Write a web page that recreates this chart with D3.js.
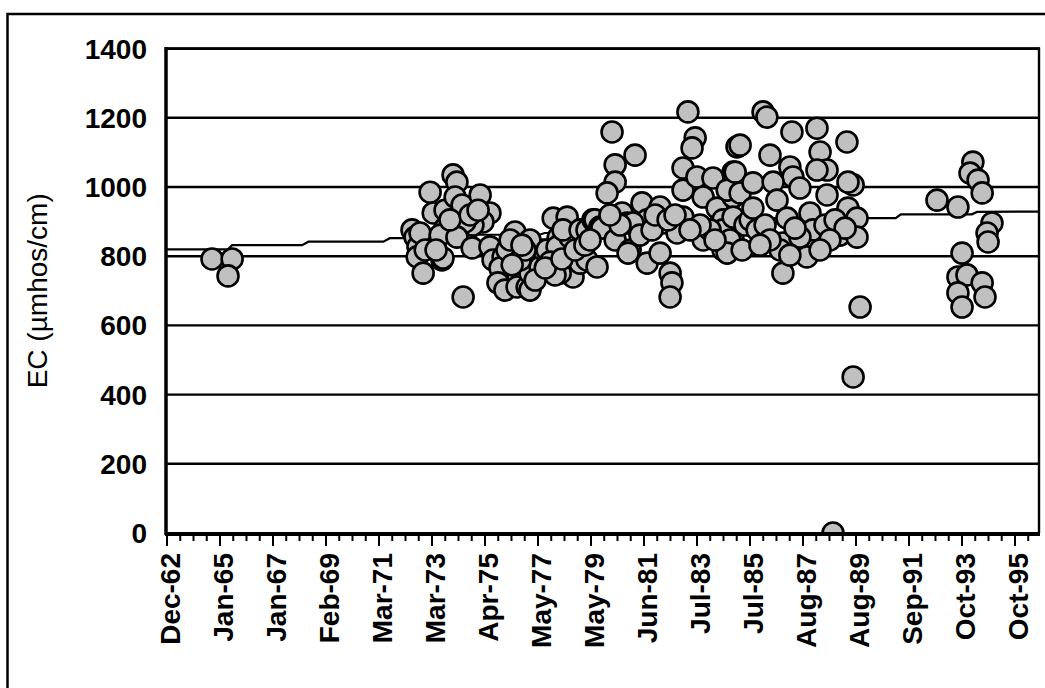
<!DOCTYPE html>
<html>
<head>
<meta charset="utf-8">
<script src="https://cdn.jsdelivr.net/npm/d3@7"></script>
<style>
  html, body { margin: 0; padding: 0; background: #fff; }
  svg { display: block; }
  text { font-family: Arial, "Liberation Sans", sans-serif; fill: #000; }
</style>
</head>
<body>
<svg id="chart" width="1045" height="688"></svg>
<script>
// Sample dates (decimal years) and electrical conductivity readings (µmhos/cm)
const sampleYears = [
  1964.71, 1965.49, 1965.33,
  1972.46, 1972.58, 1972.69, 1972.66, 1972.89, 1972.77, 1973.16, 1973.28, 1973.74, 1974.05,
  1974.20, 1974.13, 1974.40, 1975.10, 1975.48, 1975.21, 1974.82, 1974.51, 1973.74, 1973.55,
  1973.62, 1974.20, 1974.79, 1974.44, 1975.48, 1975.60, 1973.66, 1973.93, 1974.71, 1975.02,
  1972.97, 1973.39,
  1975.99, 1975.87, 1975.79, 1976.06, 1976.45, 1976.14, 1976.57, 1976.53, 1976.92, 1977.03,
  1977.03, 1977.31, 1977.42, 1977.54, 1977.03, 1977.93, 1978.12, 1978.20, 1977.69, 1978.08,
  1978.47, 1978.58, 1978.70, 1978.47, 1978.31, 1978.20, 1978.97, 1978.97, 1979.24, 1979.24,
  1979.63, 1979.47, 1979.55, 1979.74, 1979.82, 1976.65, 1976.84, 1977.23, 1977.81, 1978.00,
  1977.62, 1976.34, 1978.27, 1978.78, 1979.16, 1979.36, 1976.26, 1976.72,
  1980.21, 1980.33, 1980.33, 1980.02, 1981.10, 1980.60, 1980.33, 1980.91, 1980.79, 1980.83,
  1981.37, 1981.57, 1981.02, 1981.57, 1982.07, 1982.19, 1982.07, 1982.46, 1982.53, 1982.46,
  1982.96, 1982.73, 1981.29, 1981.76, 1980.52, 1981.88, 1982.38, 1982.65, 1980.13,
  1983.15, 1983.43, 1983.31, 1982.96, 1982.96, 1983.50, 1983.74, 1984.12, 1984.28, 1984.51,
  1983.74, 1984.51, 1985.05, 1984.90, 1984.90, 1984.90, 1984.51, 1984.67, 1985.17, 1984.98,
  1985.17, 1984.90, 1984.78, 1984.67, 1984.01, 1983.62, 1984.20, 1983.23, 1985.36, 1985.56,
  1985.25,
  1986.06, 1986.21, 1987.18, 1988.15, 1989.31, 1986.33, 1988.27, 1987.10, 1988.54, 1988.15,
  1987.22, 1989.55, 1989.35, 1985.67, 1986.45, 1987.49, 1988.54, 1986.60, 1985.67, 1986.99,
  1987.88, 1989.35, 1989.70, 1985.83, 1987.99, 1989.04, 1989.70, 1986.83, 1987.49, 1987.76,
  1986.72, 1986.83, 1989.82, 1989.55, 1988.77, 1986.14, 1986.33, 1987.30, 1988.46, 1988.85,
  1989.24, 1985.94, 1987.10, 1988.65, 1988.27,
  1992.80, 1993.61, 1994.19, 1994.08, 1994.39, 1994.55, 1994.93, 1994.74, 1994.78, 1993.77,
  1993.61, 1993.96, 1994.55, 1993.61, 1993.77, 1994.66
];
const ecValues = [
  792, 792, 743,
  876, 855, 827, 798, 751, 867, 985, 925, 933, 1035,
  1014, 971, 948, 977, 925, 899, 890, 899, 881, 861,
  789, 855, 824, 682, 827, 789, 795, 905, 919, 933,
  818, 818,
  798, 766, 723, 702, 870, 818, 740, 711, 711, 751,
  702, 789, 769, 818, 847, 910, 853, 827, 818, 827,
  760, 855, 740, 913, 876, 751, 780, 876, 789, 876,
  769, 905, 905, 884, 881, 789, 818, 731, 783, 746,
  766, 775, 792, 818, 832, 847, 847, 832,
  1159, 1064, 1014, 983, 1092, 925, 847, 818, 896, 809,
  954, 905, 896, 780, 942, 896, 809, 751, 723, 682,
  913, 867, 861, 876, 890, 919, 905, 919, 919,
  1217, 1142, 1113, 1055, 991, 1029, 971, 1026, 939, 905,
  847, 818, 1116, 1043, 971, 847, 876, 991, 1121, 1043,
  983, 913, 847, 809, 876, 890, 847, 876, 890, 905,
  818,
  1217, 1202, 1159, 1170, 1130, 1092, 1101, 1058, 1049, 1049,
  1029, 1006, 1014, 1012, 1014, 997, 977, 962, 939, 910,
  925, 939, 910, 876, 876, 861, 855, 838, 855, 798,
  818, 751, 653, 451, 0, 890, 847, 881, 890, 905,
  881, 832, 803, 847, 818,
  962, 942, 1072, 1040, 1020, 983, 896, 867, 841, 809,
  740, 746, 723, 694, 653, 682
];

// Running trend line (decimal year, µmhos/cm)
const trendYears  = [1962.97, 1965.33, 1965.49, 1968.20, 1968.45, 1971.35, 1971.60, 1974.80, 1975.00,
                     1977.40, 1977.60, 1979.40, 1979.60, 1980.40, 1980.60, 1981.90, 1982.10, 1983.40,
                     1983.60, 1984.70, 1984.90, 1985.90, 1986.10, 1991.20, 1991.40, 1994.15, 1994.35, 1996.75];
const trendValues = [820, 820, 832, 832, 842, 842, 852, 852, 862,
                     862, 867, 867, 872, 872, 878, 878, 884, 884,
                     893, 893, 900, 900, 910, 910, 921, 921, 928, 929];

// Axis definitions (spreadsheet date serials for the time axis)
const xStartSerial = 23000, xEndSerial = 35340, xMajorStep = 750, xMinorStep = 187.5;
const xTickLabels = ["Dec-62", "Jan-65", "Jan-67", "Feb-69", "Mar-71", "Mar-73", "Apr-75", "May-77",
                     "May-79", "Jun-81", "Jul-83", "Jul-85", "Aug-87", "Aug-89", "Sep-91", "Oct-93", "Oct-95"];
const yTicks = [0, 200, 400, 600, 800, 1000, 1200, 1400];
const yTitle = "EC (µmhos/cm)";

const serialToDate = s => new Date(Date.UTC(1899, 11, 30) + s * 864e5);
const yearToDate = yr => {
  const y = Math.floor(yr);
  const a = Date.UTC(y, 0, 1), b = Date.UTC(y + 1, 0, 1);
  return new Date(a + (yr - y) * (b - a));
};

const svg = d3.select("#chart");
const plot = { left: 167, right: 1039, top: 48.6, bottom: 533 };

const x = d3.scaleUtc()
  .domain([serialToDate(xStartSerial), serialToDate(xEndSerial)])
  .range([plot.left, plot.right]);
const y = d3.scaleLinear().domain([0, 1400]).range([plot.bottom, plot.top]);

// Outer chart border
svg.append("rect")
  .attr("x", 7.5).attr("y", 14).attr("width", 1100).attr("height", 700)
  .attr("fill", "none").attr("stroke", "#000").attr("stroke-width", 2.5);

// Horizontal gridlines
svg.append("g").selectAll("line")
  .data(yTicks.filter(v => v > 0))
  .join("line")
  .attr("x1", plot.left).attr("x2", plot.right)
  .attr("y1", d => y(d)).attr("y2", d => y(d))
  .attr("stroke", "#000").attr("stroke-width", 2.4);

// Right edge of plot area
svg.append("line")
  .attr("x1", plot.right).attr("x2", plot.right)
  .attr("y1", plot.top - 1).attr("y2", plot.bottom)
  .attr("stroke", "#000").attr("stroke-width", 2.4);

svg.append("clipPath").attr("id", "plotClip")
  .append("rect")
  .attr("x", plot.left).attr("y", plot.top - 30)
  .attr("width", plot.right - plot.left).attr("height", plot.bottom - plot.top + 30);

const inner = svg.append("g").attr("clip-path", "url(#plotClip)");

// Trend line
const trend = trendYears.map((t, i) => ({ date: yearToDate(t), value: trendValues[i] }));
inner.append("path")
  .datum(trend)
  .attr("fill", "none").attr("stroke", "#000").attr("stroke-width", 2.2)
  .attr("d", d3.line().x(d => x(d.date)).y(d => y(d.value)));

// Sample points
const samples = sampleYears.map((t, i) => ({ date: yearToDate(t), value: ecValues[i] }));
inner.append("g").selectAll("circle")
  .data(samples)
  .join("circle")
  .attr("cx", d => x(d.date)).attr("cy", d => y(d.value))
  .attr("r", 10.5)
  .attr("fill", "#c0c0c0").attr("stroke", "#000").attr("stroke-width", 2.6);

// Time axis ticks
const majorSerials = d3.range(xTickLabels.length).map(i => xStartSerial + i * xMajorStep);
const minorSerials = d3.range(xStartSerial, xEndSerial + 1, xMinorStep);
const xAxisG = svg.append("g");
xAxisG.selectAll("line.minor")
  .data(minorSerials)
  .join("line").attr("class", "minor")
  .attr("x1", d => x(serialToDate(d))).attr("x2", d => x(serialToDate(d)))
  .attr("y1", plot.bottom).attr("y2", plot.bottom + 8)
  .attr("stroke", "#000").attr("stroke-width", 2);
xAxisG.selectAll("line.major")
  .data(majorSerials)
  .join("line").attr("class", "major")
  .attr("x1", d => x(serialToDate(d))).attr("x2", d => x(serialToDate(d)))
  .attr("y1", plot.bottom).attr("y2", plot.bottom + 13)
  .attr("stroke", "#000").attr("stroke-width", 2);
xAxisG.selectAll("text")
  .data(majorSerials)
  .join("text")
  .attr("transform", d => `translate(${x(serialToDate(d)) + 3},553) rotate(-90)`)
  .attr("text-anchor", "end")
  .attr("dy", "0.35em")
  .attr("font-size", 28).attr("font-weight", "bold")
  .text((d, i) => xTickLabels[i]);

// Axis lines
svg.append("line")
  .attr("x1", plot.left - 2).attr("x2", plot.right + 1)
  .attr("y1", plot.bottom + 1).attr("y2", plot.bottom + 1)
  .attr("stroke", "#000").attr("stroke-width", 4);
svg.append("line")
  .attr("x1", plot.left - 1).attr("x2", plot.left - 1)
  .attr("y1", plot.top - 1.5).attr("y2", plot.bottom + 2)
  .attr("stroke", "#000").attr("stroke-width", 3.5);
svg.append("line")
  .attr("x1", plot.left - 2).attr("x2", plot.right + 1)
  .attr("y1", plot.top).attr("y2", plot.top)
  .attr("stroke", "#000").attr("stroke-width", 2.6);

// Value axis labels
svg.append("g").selectAll("text")
  .data(yTicks)
  .join("text")
  .attr("x", 147).attr("y", d => y(d))
  .attr("dy", "0.36em")
  .attr("text-anchor", "end")
  .attr("font-size", 28).attr("font-weight", "bold")
  .text(d => d);

svg.append("text")
  .attr("transform", `translate(47,${(plot.top + plot.bottom) / 2}) rotate(-90)`)
  .attr("text-anchor", "middle")
  .attr("font-size", 28)
  .text(yTitle);
</script>
</body>
</html>
